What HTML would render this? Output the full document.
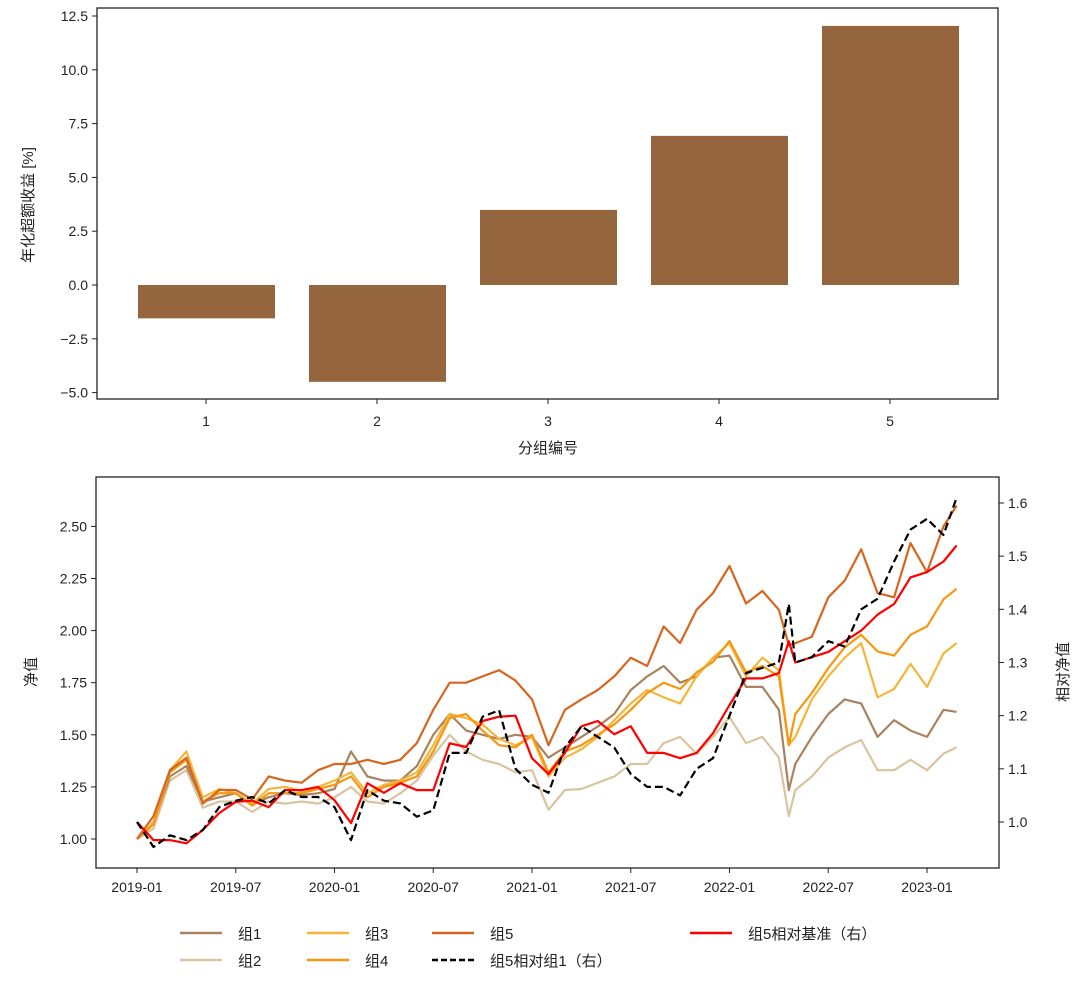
<!DOCTYPE html>
<html><head><meta charset="utf-8">
<style>
body{margin:0;background:#fff;}
svg{display:block;font-family:"Liberation Sans","Noto Sans CJK SC",sans-serif;}
text{fill:#222;}
</style></head>
<body>
<svg id="chart" width="1080" height="981" viewBox="0 0 1080 981">
<rect width="1080" height="981" fill="#fff"/>
<g id="topChart"></g>
<g id="bottomChart"></g>
<g id="legend"></g>
</svg>
<script>
// ---- bar chart data ----
const groups = ["1","2","3","4","5"];
const excessReturn = [-1.55, -4.5, 3.49, 6.93, 12.04];
const barTicks = [-5.0, -2.5, 0.0, 2.5, 5.0, 7.5, 10.0, 12.5];

// ---- line chart data (t = months since 2019-01) ----
const months = [0,1,2,3,4,5,6,7,8,9,10,11,12,13,14,15,16,17,18,19,20,21,22,23,24,25,26,27,28,29,30,31,32,33,34,35,36,37,38,39,39.6,40,41,42,43,44,45,46,47,48,49,49.8];
const g1 = [1.00,1.08,1.30,1.35,1.18,1.20,1.22,1.17,1.20,1.22,1.21,1.22,1.24,1.42,1.30,1.28,1.28,1.35,1.50,1.60,1.52,1.50,1.48,1.50,1.49,1.39,1.44,1.49,1.54,1.60,1.715,1.78,1.83,1.75,1.78,1.87,1.88,1.73,1.73,1.62,1.235,1.36,1.49,1.60,1.67,1.65,1.49,1.57,1.52,1.49,1.62,1.61];
const g2 = [1.00,1.05,1.28,1.33,1.15,1.18,1.18,1.13,1.18,1.17,1.18,1.17,1.20,1.25,1.18,1.17,1.22,1.28,1.40,1.50,1.42,1.38,1.36,1.32,1.33,1.14,1.235,1.24,1.27,1.30,1.36,1.36,1.46,1.49,1.41,1.49,1.585,1.46,1.49,1.39,1.11,1.235,1.30,1.39,1.44,1.475,1.33,1.33,1.38,1.33,1.41,1.44];
const g3 = [1.00,1.08,1.33,1.42,1.20,1.24,1.22,1.17,1.24,1.25,1.23,1.25,1.28,1.32,1.22,1.26,1.28,1.32,1.45,1.60,1.58,1.55,1.48,1.45,1.49,1.30,1.39,1.43,1.49,1.57,1.65,1.715,1.68,1.65,1.78,1.87,1.94,1.78,1.87,1.81,1.45,1.49,1.67,1.78,1.87,1.94,1.68,1.72,1.84,1.73,1.89,1.94];
const g4 = [1.00,1.07,1.32,1.38,1.18,1.22,1.22,1.16,1.22,1.22,1.22,1.24,1.26,1.30,1.20,1.25,1.27,1.30,1.42,1.58,1.60,1.52,1.45,1.44,1.50,1.32,1.42,1.45,1.50,1.55,1.62,1.70,1.75,1.72,1.80,1.85,1.95,1.80,1.83,1.78,1.45,1.60,1.70,1.82,1.92,1.98,1.90,1.88,1.98,2.02,2.15,2.20];
const g5 = [1.00,1.11,1.33,1.39,1.17,1.235,1.235,1.19,1.30,1.28,1.27,1.33,1.36,1.36,1.38,1.36,1.38,1.46,1.62,1.75,1.75,1.78,1.81,1.76,1.67,1.45,1.62,1.67,1.715,1.78,1.87,1.83,2.02,1.94,2.10,2.18,2.31,2.13,2.19,2.10,1.93,1.94,1.97,2.16,2.24,2.39,2.18,2.16,2.42,2.28,2.50,2.60];
const relBench = [1.00,0.966,0.966,0.96,0.985,1.017,1.038,1.04,1.028,1.06,1.06,1.066,1.041,0.998,1.073,1.055,1.073,1.06,1.06,1.148,1.141,1.19,1.198,1.20,1.12,1.09,1.13,1.18,1.19,1.165,1.18,1.13,1.13,1.12,1.13,1.167,1.22,1.27,1.27,1.28,1.34,1.30,1.31,1.32,1.34,1.36,1.39,1.41,1.46,1.47,1.49,1.52];
const relG1 = [1.00,0.953,0.975,0.966,0.985,1.028,1.04,1.047,1.035,1.06,1.047,1.047,1.028,0.966,1.06,1.04,1.035,1.01,1.022,1.13,1.13,1.198,1.21,1.10,1.07,1.055,1.14,1.18,1.16,1.14,1.09,1.066,1.066,1.05,1.10,1.12,1.20,1.28,1.29,1.30,1.41,1.30,1.31,1.34,1.33,1.40,1.42,1.49,1.55,1.57,1.54,1.61];
const leftTicks = [1.00,1.25,1.50,1.75,2.00,2.25,2.50];
const rightTicks = [1.0,1.1,1.2,1.3,1.4,1.5,1.6];
const xTickMonths = [0,6,12,18,24,30,36,42,48];
const xTickLabels = ["2019-01","2019-07","2020-01","2020-07","2021-01","2021-07","2022-01","2022-07","2023-01"];

const NS="http://www.w3.org/2000/svg";
function mk(parent,tag,attrs,txt){const e=document.createElementNS(NS,tag);for(const k in attrs)e.setAttribute(k,attrs[k]);if(txt!==undefined)e.textContent=txt;parent.appendChild(e);return e;}

// ---- top bar chart ----
const topG=document.getElementById('topChart');
const TL=97,TR=998,TT=8,TB=399;
const yBar=v=>285-v*(269/12.5);
const xBar=i=>206+i*171;
groups.forEach((g,i)=>{
  const v=excessReturn[i];
  const y0=yBar(0),y1=yBar(v);
  const r=mk(topG,'rect',{x:xBar(i)-68,y:Math.min(y0,y1),width:137,height:Math.abs(y1-y0),fill:'#95663e'});
  
  
  mk(topG,'line',{x1:xBar(i),x2:xBar(i),y1:TB,y2:TB+5,stroke:'#222','stroke-width':1});
  const t=mk(topG,'text',{x:xBar(i),y:TB+27,'text-anchor':'middle','font-size':14},g);
  
  
});
barTicks.forEach(v=>{
  const y=yBar(v);
  mk(topG,'line',{x1:TL-5,x2:TL,y1:y,y2:y,stroke:'#222','stroke-width':1});
  const t=mk(topG,'text',{x:TL-9,y:y+5,'text-anchor':'end','font-size':14},v.toFixed(1).replace('-','−'));
  
  
});
mk(topG,'rect',{x:TL,y:TT,width:TR-TL,height:TB-TT,fill:'none',stroke:'#222','stroke-width':1.3});
let tx=mk(topG,'text',{x:548,y:453,'text-anchor':'middle','font-size':15},'分组编号');


tx=mk(topG,'text',{x:0,y:0,transform:'translate(33,205) rotate(-90)','text-anchor':'middle','font-size':15},'年化超额收益 [%]');



// ---- bottom line chart ----
const botG=document.getElementById('bottomChart');
const BL=96,BR=999,BT=477,BB=868;
const xT=t=>137+t*(790/48);
const yL=v=>839-(v-1)*208.4;
const yR=v=>822-(v-1)*531.7;
xTickMonths.forEach((m,i)=>{
  const x=xT(m);
  mk(botG,'line',{x1:x,x2:x,y1:BB,y2:BB+5,stroke:'#222','stroke-width':1});
  const t=mk(botG,'text',{x:x,y:BB+24,'text-anchor':'middle','font-size':14},xTickLabels[i]);
  
  
});
leftTicks.forEach(v=>{
  const y=yL(v);
  mk(botG,'line',{x1:BL-5,x2:BL,y1:y,y2:y,stroke:'#222','stroke-width':1});
  const t=mk(botG,'text',{x:BL-9,y:y+5,'text-anchor':'end','font-size':14},v.toFixed(2));
  
  
});
rightTicks.forEach(v=>{
  const y=yR(v);
  mk(botG,'line',{x1:BR,x2:BR+5,y1:y,y2:y,stroke:'#222','stroke-width':1});
  const t=mk(botG,'text',{x:BR+9,y:y+5,'text-anchor':'start','font-size':14},v.toFixed(1));
  
  
});
function series(arr,yf,color,name,dash){
  const d=arr.map((v,i)=>(i?'L':'M')+xT(months[i]).toFixed(1)+','+yf(v).toFixed(1)).join(' ');
  const p=mk(botG,'path',{d:d,fill:'none',stroke:color,'stroke-width':2.2,'stroke-linejoin':'round'});
  if(dash)p.setAttribute('stroke-dasharray',dash);
  
  
}
series(g2,yL,'#d9c4a0','line-group-2');
series(g1,yL,'#a9835f','line-group-1');
series(g3,yL,'#f6b53a','line-group-3');
series(g4,yL,'#f5980f','line-group-4');
series(g5,yL,'#d6661f','line-group-5');
series(relBench,yR,'#ff0000','line-group5-vs-benchmark');
series(relG1,yR,'#000000','line-group5-vs-group1','8,4');
mk(botG,'rect',{x:BL,y:BT,width:BR-BL,height:BB-BT,fill:'none',stroke:'#222','stroke-width':1.3});
tx=mk(botG,'text',{x:0,y:0,transform:'translate(36,672) rotate(-90)','text-anchor':'middle','font-size':15},'净值');


tx=mk(botG,'text',{x:0,y:0,transform:'translate(1068,672) rotate(-90)','text-anchor':'middle','font-size':15},'相对净值');



// ---- legend ----
const legG=document.getElementById('legend');
const legendItems=[
  {x:180,y:933,c:'#a9835f',l:'组1'},{x:180,y:960,c:'#d9c4a0',l:'组2'},
  {x:307,y:933,c:'#f6b53a',l:'组3'},{x:307,y:960,c:'#f5980f',l:'组4'},
  {x:432,y:933,c:'#d6661f',l:'组5'},{x:432,y:960,c:'#000',l:'组5相对组1（右）',dash:'6,3'},
  {x:690,y:933,c:'#ff0000',l:'组5相对基准（右）'}
];
legendItems.forEach(it=>{
  const g=mk(legG,'g',{});
  
  
  const ln=mk(g,'line',{x1:it.x,x2:it.x+42,y1:it.y,y2:it.y,stroke:it.c,'stroke-width':2.5});
  if(it.dash)ln.setAttribute('stroke-dasharray',it.dash);
  mk(g,'text',{x:it.x+58,y:it.y+6,'font-size':15},it.l);
});
</script>
</body></html>
